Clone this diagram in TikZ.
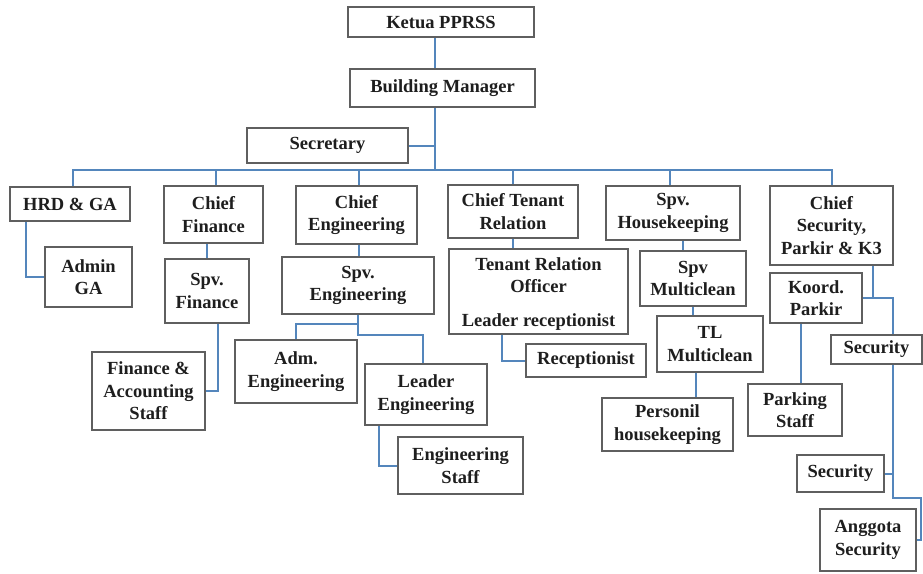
\documentclass[tikz,border=0pt]{standalone}
\usepackage{fontspec}
\setmainfont{Liberation Serif}
\definecolor{boxgray}{RGB}{95,95,95}
\definecolor{linkblue}{RGB}{84,134,188}
\definecolor{textdark}{RGB}{30,30,30}
\begin{document}
\begin{tikzpicture}[x=1pt,y=-1pt,
  box/.style={draw=boxgray, line width=1.6pt, fill=white, inner sep=0pt, align=center,
    font=\bfseries\fontsize{18.5}{22.5}\selectfont, text=textdark},
  conn/.style={draw=linkblue, line width=2pt}]
\useasboundingbox (0,0) rectangle (923,573);
% top
\node[box, minimum width=186pt, minimum height=30pt] (ketua) at (441,22) {Ketua PPRSS};
\node[box, minimum width=185pt, minimum height=38pt] (bm) at (442.5,88) {Building Manager};
\node[box, minimum width=161pt, minimum height=35pt] (sec) at (327.5,145.5) {Secretary};
\coordinate (busc) at (435,170);
% level 1
\node[box, minimum width=120pt, minimum height=34pt] (hrd) at (70,204) {HRD \& GA};
\node[box, minimum width=99pt, minimum height=57pt] (cf) at (213.5,214.5) {Chief\\Finance};
\node[box, minimum width=121pt, minimum height=58pt] (ce) at (356.5,215) {Chief\\Engineering};
\node[box, minimum width=130pt, minimum height=53pt] (ctr) at (513,211.5) {Chief Tenant\\Relation};
\node[box, minimum width=134pt, minimum height=54pt] (shk) at (673,213) {Spv.\\Housekeeping};
\node[box, minimum width=123pt, minimum height=79pt] (cs) at (831.5,225.5) {Chief\\Security,\\Parkir \& K3};
% HRD branch
\node[box, minimum width=87pt, minimum height=60pt] (admga) at (88.5,277) {Admin\\GA};
% finance branch
\node[box, minimum width=84pt, minimum height=64pt] (spvf) at (207,291) {Spv.\\Finance};
\node[box, minimum width=113pt, minimum height=78pt] (fas) at (148.5,391) {Finance \&\\Accounting\\Staff};
% engineering branch
\node[box, minimum width=152pt, minimum height=57pt] (spve) at (358,285.5) {Spv.\\Engineering};
\node[box, minimum width=122pt, minimum height=63pt] (adme) at (296,371.5) {Adm.\\Engineering};
\node[box, minimum width=122pt, minimum height=61pt] (lde) at (426,394.5) {Leader\\Engineering};
\node[box, minimum width=125pt, minimum height=57pt] (engs) at (460.5,465.5) {Engineering\\Staff};
% tenant relation branch
\node[box, minimum width=179pt, minimum height=85pt] (tro) at (538.5,291.5) {\rule{0pt}{17pt}Tenant Relation\\Officer\\[11pt]Leader receptionist};
\node[box, minimum width=120pt, minimum height=33pt] (rec) at (586,360.5) {Receptionist};
% housekeeping branch
\node[box, minimum width=106pt, minimum height=55pt] (smc) at (693,278.5) {Spv\\Multiclean};
\node[box, minimum width=106pt, minimum height=56pt] (tlm) at (710,344) {TL\\Multiclean};
\node[box, minimum width=131pt, minimum height=53pt] (phk) at (667.5,424.5) {Personil\\housekeeping};
% security branch
\node[box, minimum width=92pt, minimum height=50pt] (kp) at (816,298) {Koord.\\Parkir};
\node[box, minimum width=91pt, minimum height=29pt] (sec1) at (876.5,349.5) {Security};
\node[box, minimum width=94pt, minimum height=52pt] (pks) at (795,410) {Parking\\Staff};
\node[box, minimum width=87pt, minimum height=37pt] (sec2) at (840.5,473.5) {Security};
\node[box, minimum width=96pt, minimum height=62pt] (ang) at (868,540) {Anggota\\Security};
\coordinate (rt) at (921,498);
\coordinate (secx) at ([xshift=16.5pt]sec1.south);
% connectors: spine
\draw[conn] (ketua.south -| busc) -- (bm.north -| busc);
\draw[conn] (bm.south -| busc) -- (busc);
\draw[conn] (sec.east) -- (sec.east -| busc);
\draw[conn] ([xshift=3pt]hrd.north) |- (busc) -| (cs.north);
\draw[conn] ([xshift=2.5pt]cf.north) -- ([xshift=2.5pt]cf.north |- busc);
\draw[conn] ([xshift=2.5pt]ce.north) -- ([xshift=2.5pt]ce.north |- busc);
\draw[conn] (ctr.north) -- (ctr.north |- busc);
\draw[conn] ([xshift=-3pt]shk.north) -- ([xshift=-3pt]shk.north |- busc);
% branches
\draw[conn] ([xshift=-44pt]hrd.south) |- (admga.west);
\draw[conn] (spvf.north) -- (spvf.north |- cf.south);
\draw[conn] ([xshift=11pt]spvf.south) |- (fas.east);
\draw[conn] ([xshift=1pt]spve.north) -- ([xshift=1pt]spve.north |- ce.south);
\draw[conn] (spve.south) -- ++(0,9) -| (adme.north);
\draw[conn] (spve.south) -- ++(0,20) -| ([xshift=-3pt]lde.north);
\draw[conn] ([xshift=-47pt]lde.south) |- (engs.west);
\draw[conn] (ctr.south) -- (ctr.south |- tro.north);
\draw[conn] ([xshift=-36.5pt]tro.south) |- (rec.west);
\draw[conn] ([xshift=10pt]shk.south) -- ([xshift=-10pt]smc.north);
\draw[conn] (smc.south) -- (smc.south |- tlm.north);
\draw[conn] ([xshift=-14pt]tlm.south) -- ([xshift=-14pt]tlm.south |- phk.north);
\draw[conn] ([xshift=41.5pt]cs.south) -- ([xshift=41.5pt]cs.south |- kp.east);
\draw[conn] (kp.east) -| (sec1.north -| secx);
\draw[conn] ([xshift=-15pt]kp.south) -- ([xshift=-15pt]kp.south |- pks.north);
\draw[conn] (secx) |- (rt) |- (ang.east);
\draw[conn] (sec2.east) -- (sec2.east -| secx);
\end{tikzpicture}
\end{document}
